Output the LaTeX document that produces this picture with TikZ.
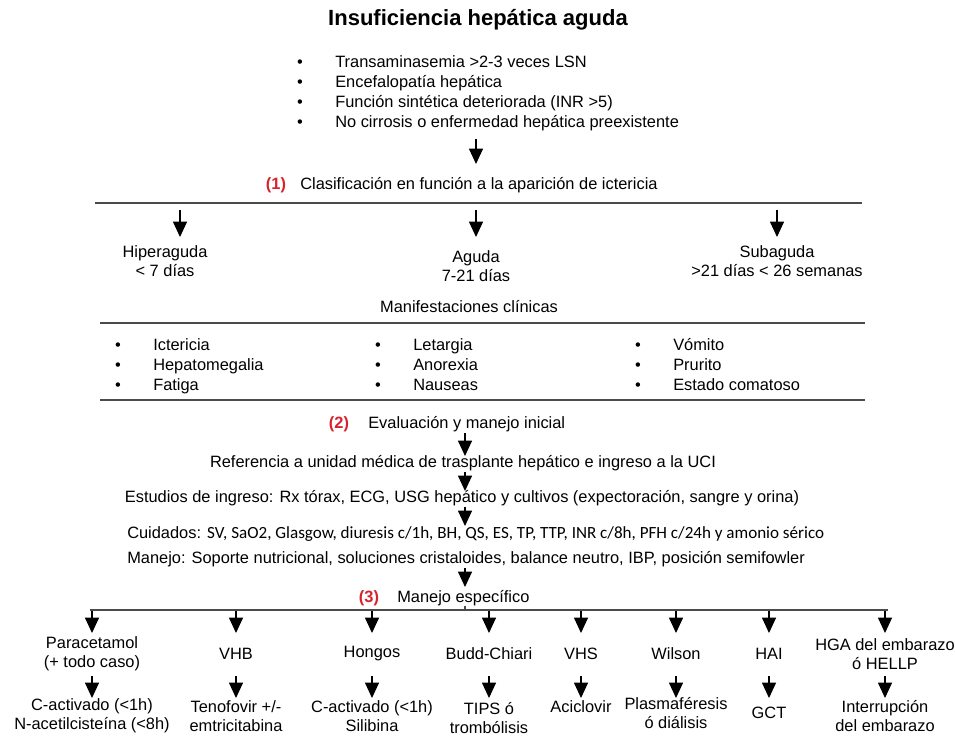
\documentclass[tikz,border=0pt]{standalone}
\usepackage{fontspec}
\setmainfont{Liberation Sans}
\newfontfamily\calibri{Carlito}
\usetikzlibrary{arrows.meta}
\definecolor{rojo}{RGB}{215,35,45}
\definecolor{linea}{RGB}{75,75,75}

\begin{document}
\begin{tikzpicture}[x=0.75pt,y=-0.75pt,
    txt/.style={font=\fontsize{12.3}{14.5}\selectfont, align=center, inner sep=0pt},
    num/.style={font=\bfseries\fontsize{12.3}{14.5}\selectfont, text=rojo, inner sep=0pt},
    flecha/.style={-{Triangle[width=10.5pt,length=11.5pt]}, line width=0.8pt},
    raya/.style={draw=linea, line width=1.4pt}]
  \useasboundingbox (0,0) rectangle (955,737);
  \coordinate (eje) at (465,0);

  \node [font=\bfseries\fontsize{16.5}{20}\selectfont] (titulo) at (478,20) {Insuficiencia hepática aguda};

  % criterios
  \foreach \t [count=\i] in {Transaminasemia >2-3 veces LSN, Encefalopatía hepática,
      Función sintética deteriorada (INR >5), No cirrosis o enfermedad hepática preexistente} {
    \node [txt, anchor=base] (bc\i) at (300, 48+20*\i) {\textbullet};
    \node [txt, anchor=base west] (crit\i) at (335, 48+20*\i) {\t};
  }

  % (1)
  \node [num, anchor=base] (n1) at (276,190) {(1)};
  \node [txt, anchor=base west] (clasif) at (300,190) {Clasificación en función a la aparición de ictericia};
  \coordinate (a0) at (476,139);
  \draw [flecha] (a0) -- (a0 |- 0,164);
  \draw [raya] (95,203) coordinate (l1a) -- (862,203) coordinate (l1b);

  \node [txt] (hiper) at (165,261) {Hiperaguda\\< 7 días};
  \node [txt] (aguda) at (476,266) {Aguda\\7-21 días};
  \node [txt] (subag) at (777,261) {Subaguda\\>21 días < 26 semanas};
  \foreach \n/\x in {hiper/180, aguda/476, subag/777}
    \draw [flecha] (\x,210) -- (\x,237);

  \node [txt, anchor=base] (manif) at (469,313) {Manifestaciones clínicas};
  \draw [raya] (100,323) coordinate (l2a) -- (865,323) coordinate (l2b);

  % manifestaciones
  \foreach \x/\a/\b/\c [count=\j] in {118/Ictericia/Hepatomegalia/Fatiga,
      378/Letargia/Anorexia/Nauseas, 638/Vómito/Prurito/Estado comatoso} {
    \foreach \t [count=\i] in {\a,\b,\c} {
      \node [txt, anchor=base] (bm\j\i) at (\x, 330+20*\i) {\textbullet};
      \node [txt, anchor=base west] (m\j\i) at (\x+35, 330+20*\i) {\t};
    }
  }
  \draw [raya] (100,400) coordinate (l3a) -- (865,400) coordinate (l3b);

  % (2)
  \node [num, anchor=base] (n2) at (339,428) {(2)};
  \node [txt, anchor=base west] (evalua) at (368,428) {Evaluación y manejo inicial};
  \node [txt, anchor=base] (refer) at (463,467) {Referencia a unidad médica de trasplante hepático e ingreso a la UCI};
  \node [txt, anchor=base] (estud) at (462,502) {Estudios de ingreso: Rx tórax, ECG, USG hepático y cultivos (expectoración, sangre y orina)};
  \node [txt, anchor=base west] (cuida) at (127,538) {Cuidados: {\calibri\fontsize{12.8}{14}\selectfont SV, SaO2, Glasgow, diuresis c/1h, BH, QS, ES, TP, TTP, INR c/8h, PFH c/24h y amonio sérico}};
  \node [txt, anchor=base west] (manejo) at (127,563) {Manejo: Soporte nutricional, soluciones cristaloides, balance neutro, IBP, posición semifowler};

  \draw [flecha] ([yshift=-1]eje |- evalua.south) -- (eje |- 0,456);
  \draw [flecha] ([yshift=-1]eje |- refer.south) -- (eje |- 0,491);
  \draw [flecha] ([yshift=-1]eje |- estud.south) -- (eje |- 0,526);
  \draw [flecha] ([yshift=-1]eje |- manejo.south) -- (eje |- 0,587);

  % (3)
  \node [num, anchor=base] (n3) at (369,602) {(3)};
  \node [txt, anchor=base west] (especif) at (397,602) {Manejo específico};
  \draw [raya, line width=0.8pt] (eje |- especif.south) -- (eje |- 0,610);
  \draw [raya, line width=1.2pt] (90,610) coordinate (l4a) -- (888,610) coordinate (l4b);

  % ramas
  \foreach \x/\a/\y/\b [count=\i] in {
      92/{Paracetamol\\(+ todo caso)}/716/{C-activado (<1h)\\N-acetilcisteína (<8h)},
      236/VHB/716/{Tenofovir +/-\\emtricitabina},
      372/Hongos/716/{C-activado (<1h)\\Silibina},
      489/Budd-Chiari/718/{TIPS ó\\trombólisis},
      581/VHS/707/Aciclovir,
      676/Wilson/713/{Plasmaféresis\\ó diálisis},
      769/HAI/713/GCT,
      885/{HGA del embarazo\\ó HELLP}/716/{Interrupción\\del embarazo}} {
    \coordinate (b\i) at (\x,611);
    \node [txt] (caso\i) at (\x,654) {\a};
    \node [txt] (trat\i) at (\x,\y) {\b};
    \draw [flecha] (b\i) -- (\x,633);
    \draw [flecha] (\x,676) -- (\x,698);
  }
\end{tikzpicture}
\end{document}
